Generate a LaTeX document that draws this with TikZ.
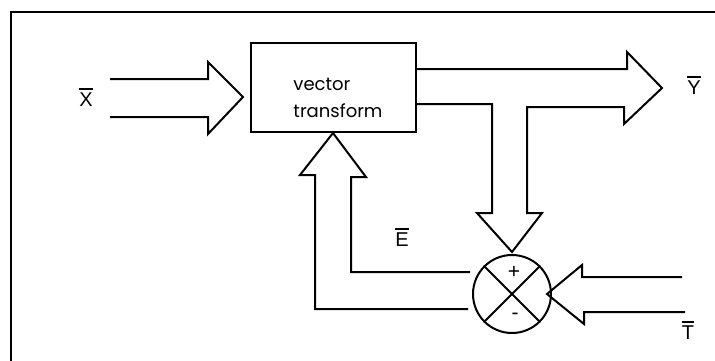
\documentclass[tikz,border=0pt]{standalone}
\usepackage{fontspec}
\setmainfont{Liberation Sans}
\newfontfamily\boxfont{Poppins}
\newcommand\barlet[1]{\vbox{\hrule height 1.8pt\kern 2.5pt\hbox{#1}}}
\begin{document}
\begin{tikzpicture}[x=1pt,y=-1pt,line join=miter,
  ln/.style={line width=2pt},
  lab/.style={inner sep=0pt,font=\fontsize{20}{20}\selectfont},
  sgn/.style={inner sep=0pt,font=\fontsize{21}{21}\selectfont}]
\useasboundingbox (0,0) rectangle (715,360);
% frame
\draw[ln] (11,380) -- (11,12) -- (730,12);
% block
\node[ln,draw,rectangle,minimum width=165pt,minimum height=89pt,inner sep=0pt] (box) at (333.5,87.5) {};
\node[align=left,inner sep=0pt,font=\boxfont\fontsize{18}{27}\selectfont] (txt) at (338,98) {vector\\transform};
% summing junction
\node[ln,draw,circle,minimum size=78pt,inner sep=0pt] (sum) at (512,294) {};
\draw[ln] (sum.north west) -- (sum.south east);
\draw[ln] (sum.north east) -- (sum.south west);
\node[sgn] (plus) at (514,272) {+};
\node[sgn] (minus) at (515,316) {-};
% X input arrow
\coordinate (xtip) at (243,97);
\draw[ln] (110,79) -- (208,79) -- (208,62) -- (xtip) -- (208,134) -- (208,117) -- (110,117);
% Y output arrow with branch down to summing junction
\coordinate (ytip) at (662,88);
\coordinate (dtip) at (512,252);
\draw[ln] (box.east |- 0,69) -- (627,69) -- (627,52) -- (ytip) -- (624,124) -- (624,107)
  -- (527,107) -- (527,213) -- (542,213) -- (dtip) -- (477,213) -- (492,213)
  -- (492,104) -- (box.east |- 0,104);
% error feedback arrow up into block
\coordinate (utip) at (box.south -| 333,0);
\draw[ln] (468,309) -- (315,309) -- (315,175) -- (300,175) -- (utip) -- (366,177)
  -- (351,177) -- (351,272) -- (470,272);
% T input arrow
\coordinate (ttip) at (547,294);
\draw[ln] (682,277) -- (582,277) -- (582,265) -- (ttip) -- (584,324) -- (584,312) -- (685,312);
% labels
\node[lab] (X) at (86,97) {\barlet{X}};
\node[lab] (Y) at (694,85) {\barlet{Y}};
\node[lab] (E) at (402,237) {\barlet{E}};
\node[lab] (T) at (688,330) {\barlet{T}};
\end{tikzpicture}
\end{document}
